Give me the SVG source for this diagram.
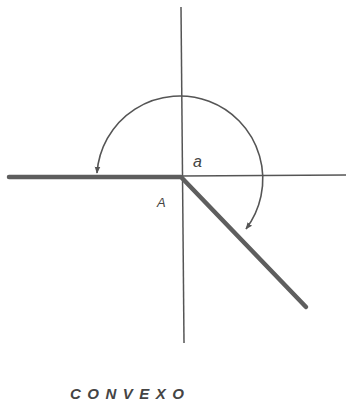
<svg xmlns="http://www.w3.org/2000/svg" width="346" height="406" viewBox="0 0 346 406">
<defs>
<style>
.thin{stroke:#555;stroke-width:1.5;fill:none}
.thick{stroke:#5e5e5e;stroke-width:4.5;fill:none;stroke-linecap:round}
.arc{stroke:#555;stroke-width:1.6;fill:none}
.lbl{font-family:"Liberation Sans",Arial,sans-serif;fill:#444;font-style:italic}
</style>
<marker id="ah" viewBox="0 0 10 10" refX="9" refY="5" markerWidth="7" markerHeight="7" markerUnits="userSpaceOnUse" orient="auto-start-reverse">
<path d="M0,1 L10,5 L0,9 Z" fill="#555"/>
</marker>
</defs>
<rect width="346" height="406" fill="#fff"/>
<g id="connectors">
<line class="thin" x1="181" y1="7" x2="184" y2="343"/>
<line class="thin" x1="181" y1="176" x2="346" y2="175"/>
<line class="thick" x1="9" y1="177" x2="181" y2="177"/>
<line class="thick" x1="182" y1="178" x2="306" y2="307"/>
<path class="arc" d="M97 173 A83 83 0 1 1 246 229" marker-start="url(#ah)" marker-end="url(#ah)"/>
</g>
<g id="label-a"><text class="lbl" x="193" y="167" font-size="16">a</text></g>
<g id="label-A"><text class="lbl" x="157" y="207" font-size="13">A</text></g>
<g id="caption"><text class="lbl" x="70" y="399" font-size="15" font-weight="bold" letter-spacing="6.5">CONVEXO</text></g>
</svg>
